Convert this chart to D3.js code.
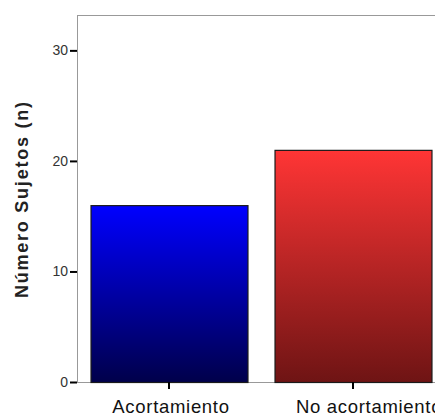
<!DOCTYPE html>
<html><head><meta charset="utf-8">
<script src="https://cdn.jsdelivr.net/npm/d3@7"></script>
<style>body{margin:0;background:#fff;} svg{display:block;font-family:"Liberation Sans",Arial,sans-serif;}</style>
</head><body>
<svg id="c" width="435" height="416"></svg>
<script>
const categories = ["Acortamiento", "No acortamiento"];
const values = [16, 21];
const yTicks = [0, 10, 20, 30];
const yTitle = "Número Sujetos (n)";

(function () {
const svg = d3.select("#c");
const mLeft = 77, mTop = 15, mBottom = 382, mRight = 445;
const x = d3.scaleBand().domain(categories).range([mLeft, mRight]).paddingInner(0.147).paddingOuter(0.0735);
const y = d3.scaleLinear().domain([0, 33.2]).range([mBottom, mTop]);

const defs = svg.append("defs");
const grads = [["gBlue", "#0000ff", "#00004a"], ["gRed", "#ff3535", "#6e1414"]];
grads.forEach(([id, c1, c2]) => {
  const g = defs.append("linearGradient").attr("id", id).attr("x1", 0).attr("y1", 0).attr("x2", 0).attr("y2", 1);
  g.append("stop").attr("offset", "0%").attr("stop-color", c1);
  g.append("stop").attr("offset", "100%").attr("stop-color", c2);
});

// frame
svg.append("line").attr("x1", mLeft).attr("x2", 435).attr("y1", mTop + 0.5).attr("y2", mTop + 0.5).attr("stroke", "#999");
svg.append("line").attr("x1", mLeft + 0.5).attr("x2", mLeft + 0.5).attr("y1", mTop).attr("y2", mBottom).attr("stroke", "#999");
svg.append("line").attr("x1", mLeft).attr("x2", 435).attr("y1", mBottom + 0.5).attr("y2", mBottom + 0.5).attr("stroke", "#999");

svg.selectAll("rect.bar").data(values).enter().append("rect")
  .attr("x", (d, i) => x(categories[i]) + 0.5)
  .attr("y", d => y(d) + 0.5)
  .attr("width", x.bandwidth())
  .attr("height", d => mBottom - y(d))
  .attr("fill", (d, i) => i === 0 ? "url(#gBlue)" : "url(#gRed)")
  .attr("stroke", "#1a1a1a").attr("stroke-width", 1.2);

// y axis
const ya = svg.append("g").attr("transform", `translate(${mLeft},0)`)
  .call(d3.axisLeft(y).tickValues(yTicks).tickSize(7).tickPadding(2));
ya.select(".domain").remove();
ya.selectAll(".tick line").attr("stroke", "#000").attr("stroke-width", 2);
ya.selectAll(".tick text").attr("font-size", 14).attr("fill", "#333").attr("font-family", "Liberation Sans, Arial, sans-serif");

// x axis
const xa = svg.append("g").attr("transform", `translate(0,${mBottom})`)
  .call(d3.axisBottom(x).tickSize(7).tickPadding(14));
xa.select(".domain").remove();
xa.selectAll(".tick line").attr("stroke", "#000").attr("stroke-width", 2);
xa.selectAll(".tick text").attr("font-size", 18.5).attr("fill", "#111").attr("dy", null).attr("y", 31)
  .attr("letter-spacing", 0.7)
  .attr("dx", (d, i) => i === 1 ? 16 : 2)
  .attr("font-family", "Liberation Sans, Arial, sans-serif");

svg.append("text").attr("transform", `translate(28,200) rotate(-90)`)
  .attr("text-anchor", "middle").attr("font-size", 18).attr("font-weight", "bold").attr("fill", "#222")
  .attr("textLength", 196).attr("lengthAdjust", "spacing")
  .text(yTitle);
})();
</script>
</body></html>
